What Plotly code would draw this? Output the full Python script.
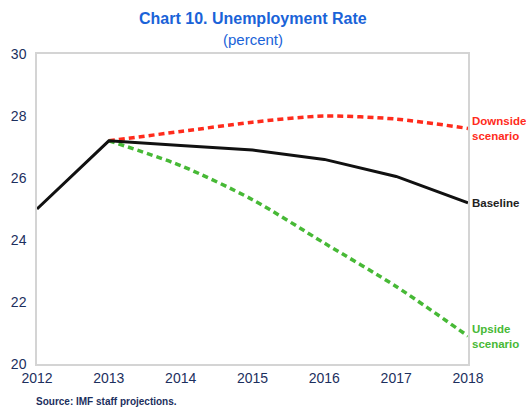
import plotly.graph_objects as go

years = [2012, 2013, 2014, 2015, 2016, 2017, 2018]
baseline = [25.0, 27.2, 27.05, 26.9, 26.6, 26.05, 25.2]
years_scen = [2013, 2014, 2015, 2016, 2017, 2018]
downside = [27.2, 27.5, 27.8, 28.0, 27.9, 27.6]
upside = [27.2, 26.4, 25.3, 23.9, 22.5, 20.9]
y_ticks = [20, 22, 24, 26, 28, 30]

FONT = "Liberation Sans, Arial, Helvetica, sans-serif"
NAVY = "#1c2f5e"
RED = "#ff2b1c"
GREEN = "#47b936"
BLUE = "#1a63d8"

fig = go.Figure()
fig.add_trace(go.Scatter(x=years_scen, y=downside, mode="lines",
                         line=dict(color=RED, width=3.5, dash="6px,4px", shape="spline", smoothing=0.8),
                         showlegend=False, hoverinfo="skip"))
fig.add_trace(go.Scatter(x=years_scen, y=upside, mode="lines",
                         line=dict(color=GREEN, width=3.5, dash="6px,4px", shape="spline", smoothing=0.8),
                         showlegend=False, hoverinfo="skip"))
fig.add_trace(go.Scatter(x=years, y=baseline, mode="lines",
                         line=dict(color="#111111", width=3),
                         showlegend=False, hoverinfo="skip"))

def end_label(text, yval, color):
    fig.add_annotation(x=years[-1], y=yval, xref="x", yref="y", text=text,
                       showarrow=False, xanchor="left", yanchor="middle", xshift=2,
                       align="left", font=dict(family=FONT, size=11.5, color=color))

end_label("<b>Downside<br>scenario</b>", downside[-1], RED)
end_label("<b>Baseline</b>", baseline[-1], "#222222")
end_label("<b>Upside<br>scenario</b>", upside[-1], GREEN)

fig.add_annotation(x=0.5, y=1, xref="paper", yref="paper", yshift=25,
                   text="<b>Chart 10. Unemployment Rate</b>", showarrow=False,
                   xanchor="center", yanchor="bottom",
                   font=dict(family=FONT, size=16, color=BLUE))
fig.add_annotation(x=0.5, y=1, xref="paper", yref="paper", yshift=4,
                   text="(percent)", showarrow=False,
                   xanchor="center", yanchor="bottom",
                   font=dict(family=FONT, size=15, color=BLUE))
fig.add_annotation(x=0.0, y=0, xref="paper", yref="paper", yshift=-30, xshift=-3,
                   text="<b>Source: IMF staff projections.</b>", showarrow=False,
                   xanchor="left", yanchor="top",
                   font=dict(family=FONT, size=10, color=NAVY))

fig.update_layout(
    width=526, height=408,
    margin=dict(l=37, r=58, t=54, b=44),
    paper_bgcolor="white", plot_bgcolor="white",
    font=dict(family=FONT, color=NAVY),
    xaxis=dict(range=[2012, 2018], tickvals=years, ticktext=[str(y) for y in years],
               showgrid=False, zeroline=False, showline=True, mirror=True,
               linecolor="#d4d4d4", linewidth=1.5, ticks="",
               tickfont=dict(family=FONT, size=14, color=NAVY)),
    yaxis=dict(range=[20, 30], tickvals=y_ticks, showgrid=False, zeroline=False,
               showline=True, mirror=True, linecolor="#d4d4d4", linewidth=1.5,
               ticks="", ticklabelstandoff=6,
               tickfont=dict(family=FONT, size=14, color=NAVY)),
)

fig.write_html("out.html", config={"displayModeBar": False},
               post_script="document.body.style.margin='0';document.body.style.overflow='hidden';")
